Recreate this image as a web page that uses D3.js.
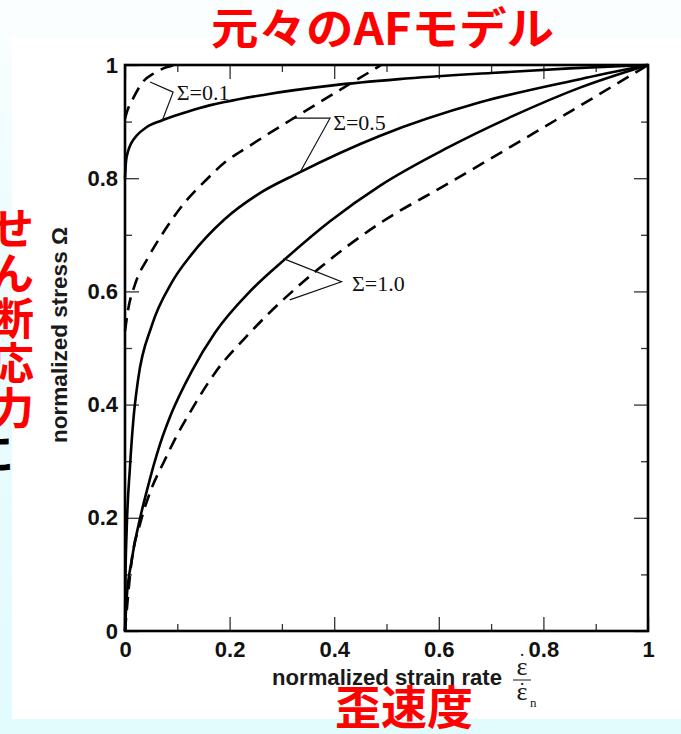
<!DOCTYPE html>
<html><head><meta charset="utf-8">
<script src="https://cdn.jsdelivr.net/npm/d3@7"></script>
<style>
html,body{margin:0;padding:0;}
body{width:681px;height:734px;overflow:hidden;background:#e4fbfd;}
svg{display:block;}
</style></head><body>
<svg id="chart" width="681" height="734"></svg>
<script>
// ---- data ----
const xMajorTicks = [0, 0.2, 0.4, 0.6, 0.8, 1];
const xTickLabels = ["0", "0.2", "0.4", "0.6", "0.8", "1"];
const yMajorTicks = [0, 0.2, 0.4, 0.6, 0.8, 1];
const yTickLabels = ["0", "0.2", "0.4", "0.6", "0.8", "1"];
const minorTicks = [0.1, 0.3, 0.5, 0.7, 0.9];
const seriesNames = ["Σ=0.1", "Σ=0.5", "Σ=1.0"];

// solid curves
const sigma01Solid = [[0,0.80],[0.002,0.83],[0.006,0.848],[0.012,0.862],[0.022,0.875],[0.041,0.89],[0.07,0.902],[0.118,0.917],[0.143,0.924],[0.27,0.948],[0.397,0.964],[0.524,0.975],[0.7,0.986],[0.85,0.994],[1,1]];
const sigma05Solid = [[0,0],[0.001,0.1],[0.003,0.173],[0.0096,0.291],[0.016,0.373],[0.025,0.444],[0.051,0.539],[0.089,0.615],[0.127,0.665],[0.191,0.728],[0.255,0.772],[0.331,0.809],[0.488,0.875],[0.679,0.934],[0.87,0.975],[1,1]];
const sigma10Solid = [[0,0],[0.003,0.055],[0.013,0.126],[0.029,0.20],[0.041,0.245],[0.067,0.33],[0.089,0.385],[0.127,0.458],[0.172,0.527],[0.239,0.60],[0.306,0.657],[0.392,0.724],[0.488,0.787],[0.615,0.853],[0.742,0.910],[0.87,0.960],[1,1]];
// dashed curves
const sigma01Dashed = [[0,0.905],[0.004,0.918],[0.015,0.94],[0.034,0.97],[0.055,0.985],[0.079,0.996],[0.095,1.0]];
const sigma05Dashed = [[0,0.53],[0.006,0.568],[0.019,0.612],[0.045,0.661],[0.076,0.708],[0.115,0.758],[0.153,0.795],[0.191,0.828],[0.238,0.857],[0.333,0.912],[0.429,0.966],[0.49,1.0]];
const sigma10Dashed = [[0,0],[0.013,0.126],[0.029,0.19],[0.05,0.25],[0.075,0.30],[0.099,0.345],[0.121,0.381],[0.172,0.456],[0.239,0.527],[0.369,0.639],[0.49,0.722],[0.615,0.789],[0.742,0.858],[0.87,0.928],[1,1]];

// annotation leaders (data units) and label anchors
const leader01 = [[0.048,0.970],[0.092,0.952],[0.071,0.901]];
const leader05 = [[0.319,0.906],[0.392,0.906],[0.335,0.811]];
const leader10 = [[0.303,0.658],[0.414,0.617],[0.315,0.585]];
const labelAnchors = [[0.099,0.938],[0.398,0.885],[0.434,0.601]];

const titleText = "元々のAFモデル";
const xTitleText = "歪速度";
const yTitleChars = ["せ","ん","断","応","力"];
const xAxisLabel = "normalized strain rate";
const yAxisLabel = "normalized stress Ω";

// ---- drawing ----
const svg = d3.select("#chart");
const defs = svg.append("defs");
const grad = defs.append("linearGradient").attr("id","bg").attr("x1",0).attr("y1",0).attr("x2",0).attr("y2",1);
grad.append("stop").attr("offset","0").attr("stop-color","#fbfefe");
grad.append("stop").attr("offset","0.3").attr("stop-color","#eefcfd");
grad.append("stop").attr("offset","1").attr("stop-color","#e2fbfd");
svg.append("rect").attr("width",681).attr("height",734).attr("fill","url(#bg)");

// partially hidden black character at the left edge
svg.append("text").attr("x",-8).attr("y",451).attr("text-anchor","middle")
  .attr("dominant-baseline","central")
  .style("font-family","'Noto Sans CJK JP'").style("font-weight","700").style("font-size","44px")
  .attr("fill","#000").text("に");

// white panel
svg.append("rect").attr("x",12).attr("y",38).attr("width",669).attr("height",681).attr("fill","#ffffff");

const x = d3.scaleLinear().domain([0,1]).range([125,648]);
const y = d3.scaleLinear().domain([0,1]).range([631,65]);

const g = svg.append("g");
const tickColor = "#333";
function styleAxis(sel){
  sel.select(".domain").remove();
  sel.selectAll(".tick line").attr("stroke",tickColor).attr("stroke-width",1.3);
  sel.selectAll(".tick text").attr("fill","#111")
    .style("font-family","'Liberation Sans', Arial, sans-serif").style("font-weight","700").style("font-size","22px");
}
// major ticks with labels
g.append("g").attr("transform",`translate(0,${y(0)})`)
  .call(d3.axisBottom(x).tickValues(xMajorTicks).tickSize(-14).tickPadding(10)
    .tickFormat((d,i)=>xTickLabels[i])).call(styleAxis);
g.append("g").attr("transform",`translate(${x(0)},0)`)
  .call(d3.axisLeft(y).tickValues(yMajorTicks).tickSize(-14).tickPadding(7)
    .tickFormat((d,i)=>yTickLabels[i])).call(styleAxis);
g.append("g").attr("transform",`translate(0,${y(1)})`)
  .call(d3.axisTop(x).tickValues(xMajorTicks).tickSize(-14).tickFormat("")).call(styleAxis);
g.append("g").attr("transform",`translate(${x(1)},0)`)
  .call(d3.axisRight(y).tickValues(yMajorTicks).tickSize(-14).tickFormat("")).call(styleAxis);
// minor ticks
g.append("g").attr("transform",`translate(0,${y(0)})`)
  .call(d3.axisBottom(x).tickValues(minorTicks).tickSize(-7).tickFormat("")).call(styleAxis);
g.append("g").attr("transform",`translate(${x(0)},0)`)
  .call(d3.axisLeft(y).tickValues(minorTicks).tickSize(-7).tickFormat("")).call(styleAxis);
g.append("g").attr("transform",`translate(0,${y(1)})`)
  .call(d3.axisTop(x).tickValues(minorTicks).tickSize(-7).tickFormat("")).call(styleAxis);
g.append("g").attr("transform",`translate(${x(1)},0)`)
  .call(d3.axisRight(y).tickValues(minorTicks).tickSize(-7).tickFormat("")).call(styleAxis);

// curves
const line = d3.line().x(d=>x(d[0])).y(d=>y(d[1])).curve(d3.curveMonotoneX);
const solids = [sigma01Solid, sigma05Solid, sigma10Solid];
const dashes = [sigma01Dashed, sigma05Dashed, sigma10Dashed];
g.selectAll("path.solid").data(solids).join("path").attr("class","solid")
  .attr("d",line).attr("fill","none").attr("stroke","#000").attr("stroke-width",2.6)
  .attr("stroke-linejoin","round");
g.selectAll("path.dashed").data(dashes).join("path").attr("class","dashed")
  .attr("d",line).attr("fill","none").attr("stroke","#000").attr("stroke-width",2.6)
  .attr("stroke-dasharray","13,8");

// frame
g.append("rect").attr("x",x(0)).attr("y",y(1)).attr("width",x(1)-x(0)).attr("height",y(0)-y(1))
  .attr("fill","none").attr("stroke","#000").attr("stroke-width",2.6);

// leaders and labels
const leaderLine = d3.line().x(d=>x(d[0])).y(d=>y(d[1]));
g.selectAll("path.leader").data([leader01,leader05,leader10]).join("path").attr("class","leader")
  .attr("d",leaderLine).attr("fill","none").attr("stroke","#111").attr("stroke-width",1.2);
g.selectAll("text.sig").data(seriesNames).join("text").attr("class","sig")
  .attr("x",(d,i)=>x(labelAnchors[i][0])).attr("y",(d,i)=>y(labelAnchors[i][1]))
  .style("font-family","'Liberation Serif', 'Times New Roman', serif").style("font-size","22px")
  .attr("fill","#111").text(d=>d);

// axis titles
svg.append("text").attr("x",272).attr("y",685)
  .style("font-family","'Liberation Sans', Arial, sans-serif").style("font-weight","700").style("font-size","22px")
  .attr("fill","#1a1a1a").attr("textLength",230).attr("lengthAdjust","spacingAndGlyphs").text(xAxisLabel);
const frac = svg.append("g").style("font-family","'Liberation Serif', 'Times New Roman', serif").attr("fill","#1a1a1a");
frac.append("text").attr("x",522).attr("y",675).attr("text-anchor","middle").style("font-size","26px").text("ε");
frac.append("text").attr("x",522).attr("y",668).attr("text-anchor","middle").style("font-size","20px").text("˙");
frac.append("line").attr("x1",513).attr("x2",531).attr("y1",680).attr("y2",680).attr("stroke","#1a1a1a").attr("stroke-width",1);
frac.append("text").attr("x",522).attr("y",700).attr("text-anchor","middle").style("font-size","26px").text("ε");
frac.append("text").attr("x",522).attr("y",697).attr("text-anchor","middle").style("font-size","20px").text("˙");
frac.append("text").attr("x",530).attr("y",707).style("font-size","13px").text("n");

svg.append("text").attr("transform","translate(67,335) rotate(-90)").attr("text-anchor","middle")
  .style("font-family","'Liberation Sans', Arial, sans-serif").style("font-weight","700").style("font-size","22px")
  .attr("fill","#1a1a1a").attr("textLength",216).attr("lengthAdjust","spacingAndGlyphs").text(yAxisLabel);

// red Japanese titles
const jp = "'Noto Sans CJK JP', sans-serif";
svg.append("text").attr("x",382.5).attr("y",45).attr("text-anchor","middle")
  .style("font-family",jp).style("font-weight","700").style("font-size","44px")
  .attr("fill","#ff0000").attr("textLength",343).attr("lengthAdjust","spacingAndGlyphs").text(titleText);
svg.append("text").attr("x",404).attr("y",724).attr("text-anchor","middle")
  .style("font-family",jp).style("font-weight","700").style("font-size","46px")
  .attr("fill","#ff0000").text(xTitleText);
svg.selectAll("text.ychar").data(yTitleChars).join("text").attr("class","ychar")
  .attr("x",12).attr("y",(d,i)=>226+i*45).attr("text-anchor","middle").attr("dominant-baseline","central")
  .style("font-family",jp).style("font-weight","700").style("font-size","44px")
  .attr("fill","#ff0000").text(d=>d);
</script>
</body></html>
